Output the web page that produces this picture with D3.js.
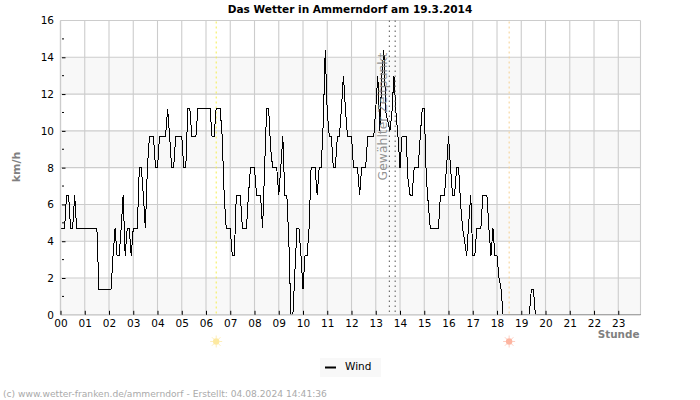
<!DOCTYPE html>
<html>
<head>
<meta charset="utf-8">
<script src="https://cdn.jsdelivr.net/npm/d3@7/dist/d3.min.js"></script>
<style>
html,body{margin:0;padding:0;background:#fff;}
svg{display:block;}
text{font-family:"DejaVu Sans",sans-serif;}
</style>
</head>
<body>
<svg id="c" width="700" height="400"></svg>
<script>
const chartTitle = "Das Wetter in Ammerndorf am 19.3.2014";
const footerText = "(c) www.wetter-franken.de/ammerndorf - Erstellt: 04.08.2024 14:41:36";
const hourLabels = ["00","01","02","03","04","05","06","07","08","09","10","11","12","13","14","15","16","17","18","19","20","21","22","23"];
const yLabelled = [0,2,4,6,8,10,12,14,16];
const yMinor = [1,3,5,7,9,11,13,15];
const bands = [[0,2],[4,6],[8,10],[12,14]];
const seriesName = "Wind";
const sunriseHour = 6.42;
const sunsetHour = 18.5;
const selectedHours = [13.56, 13.8];
const selectedLabel = "Gewählter Zeitpunkt";
// wind in km/h, one row per hour, one value per 5 minutes
const wind = [
4.7,4.7,4.7,6.5,6.5,4.7,4.7,6.5,4.7,4.7,4.7,4.7,
4.7,4.7,4.7,4.7,4.7,4.7,4.7,1.4,1.4,1.4,1.4,1.4,
1.4,1.4,3.2,4.7,3.2,3.2,4.7,6.5,3.2,4.7,4.7,3.2,
4.7,4.7,4.7,8,8,6.5,4.7,8,9.7,9.7,9.7,8,
8,9.7,9.7,9.7,9.7,11.2,9.7,8,8,9.7,9.7,9.7,
9.7,8,8,11.2,11.2,9.7,9.7,9.7,11.2,11.2,11.2,11.2,
11.2,11.2,11.2,9.7,9.7,11.2,11.2,11.2,9.7,6.5,4.7,4.7,
4.7,3.2,3.2,6.5,6.5,6.5,4.7,4.7,4.7,6.5,8,8,
8,6.5,6.5,6.5,4.7,8,11.2,11.2,9,8,8,8,
6.5,8,9.7,6.5,6.5,4,0,0,2.4,4.7,4.7,3.2,
1.4,3.2,3.2,4.7,8,8,8,6.5,8,8,10.4,14.4,
11,9.7,9.7,8,8,9.7,9.7,11.2,13,11.2,9.7,9.7,
9.7,8,8,8,6.5,8,8,8,9.7,9.7,9.7,9.7,
11.2,13,10,13,14.4,11,10.5,10,11,13,11,9.7,
8,9.7,9.7,9.7,7.3,6.5,6.5,8,8,8,9.7,11.2,
11.2,7.5,6,4.7,4.7,4.7,4.7,4.7,6.5,6.5,6.5,8,
9.7,8,6.5,6.5,8,8,6,4.7,4,3.2,5,6.5,
3.2,3.2,4.7,4.7,4.7,6.5,6.5,6.5,4.7,3.2,4.7,3.2,
3.2,2,1.4,0,0,0,0,0,0,0,0,0,
0,0,0,0,0,1.4,1.4,0,0,0,0,0,
0,0,0,0,0,0,0,0,0,0,0,0,
0,0,0,0,0,0,0,0,0,0,0,0,
0,0,0,0,0,0,0,0,0,0,0,0,
0,0,0,0,0,0,0,0,0,0,0,0
];

const svg = d3.select("#c");
const L = 60.5, R = 640.5, T = 20.5, B = 314.8;
const x = d3.scaleLinear().domain([0, 287/12]).range([L, R]);
const y = d3.scaleLinear().domain([0, 16]).range([B, T]);
const gridCol = "#cccccc", labelGrey = "#808080";

// alternating bands
svg.append("g").selectAll("rect").data(bands).join("rect")
  .attr("x", L).attr("width", R - L)
  .attr("y", d => y(d[1])).attr("height", d => y(d[0]) - y(d[1]))
  .attr("fill", "#f8f8f8");

// grid
const gridG = svg.append("g").attr("stroke", gridCol).attr("stroke-width", 1.1);
gridG.selectAll(".v").data(hourLabels).join("line").attr("class","v")
  .attr("x1", (d,i) => x(i)).attr("x2", (d,i) => x(i)).attr("y1", T).attr("y2", B);
gridG.selectAll(".h").data(yLabelled).join("line").attr("class","h")
  .attr("x1", L).attr("x2", R).attr("y1", d => y(d)).attr("y2", d => y(d));
gridG.append("line").attr("x1", R).attr("x2", R).attr("y1", T).attr("y2", B);

// sunrise / sunset / selected time
function vmark(h, col, dash, w) {
  svg.append("line").attr("x1", x(h)).attr("x2", x(h)).attr("y1", T + 1).attr("y2", B)
    .attr("stroke", col).attr("stroke-width", w).attr("stroke-dasharray", dash);
}
vmark(sunriseHour, "#f4ee4a", "2,3", 1);
vmark(sunsetHour, "#f5cf8f", "2,3", 1);

// series
const clipId = "plotclip";
svg.append("clipPath").attr("id", clipId).append("rect")
  .attr("x", L).attr("y", T - 2).attr("width", R - L).attr("height", B - T + 2);
const line = d3.line().x((d,i) => x(i/12)).y(d => y(d));
svg.append("path").datum(wind).attr("d", line)
  .attr("fill", "none").attr("stroke", "#000").attr("stroke-width", 1)
  .attr("shape-rendering", "crispEdges")
  .attr("clip-path", `url(#${clipId})`);

selectedHours.forEach(h => {
  svg.append("line").attr("x1", x(h)).attr("x2", x(h)).attr("y1", T).attr("y2", B)
    .attr("stroke", "#555").attr("stroke-width", 1).attr("stroke-dasharray", "1.5,3.5");
});
svg.append("text").attr("transform", "translate(386.5,116.5) rotate(-90)")
  .attr("text-anchor", "middle").attr("font-size", 12.4).attr("fill", "#808080").attr("fill-opacity", 0.85)
  .text(selectedLabel);

// frame (bottom and left) on top of the line
svg.append("line").attr("x1", L).attr("x2", R).attr("y1", B).attr("y2", B).attr("stroke", gridCol).attr("stroke-width", 1.3);
svg.append("line").attr("x1", L).attr("x2", L).attr("y1", T).attr("y2", B).attr("stroke", gridCol).attr("stroke-width", 1.3);

// axes
const xAxis = d3.axisBottom(x).tickValues(d3.range(hourLabels.length))
  .tickFormat((d,i) => hourLabels[i]).tickSizeInner(-4).tickSizeOuter(0).tickPadding(0);
const gx = svg.append("g").attr("transform", `translate(0,${B})`).call(xAxis);
gx.select(".domain").remove();
gx.selectAll("line").attr("stroke", "#000").attr("stroke-width", 1);
gx.selectAll("text").attr("y", 4.5).attr("dy", "0.71em").attr("font-size", 10.5).attr("fill", "#000")
  .style("font-family", '"DejaVu Sans",sans-serif');

const yAxis = d3.axisLeft(y).tickValues(yLabelled).tickFormat(d3.format("d"))
  .tickSizeInner(-5).tickSizeOuter(0).tickPadding(0);
const gy = svg.append("g").attr("transform", `translate(${L},0)`).call(yAxis);
gy.select(".domain").remove();
gy.selectAll("line").attr("stroke", "#000").attr("stroke-width", 1).attr("x1", 1.5);
gy.selectAll("line").filter(d => d === 0 || d === 16).remove();
gy.selectAll("text").attr("x", -6.5).attr("font-size", 10.5).attr("fill", "#000")
  .style("font-family", '"DejaVu Sans",sans-serif');
svg.append("g").selectAll("line").data(yMinor).join("line")
  .attr("x1", L + 1.5).attr("x2", L + 3.5).attr("y1", d => y(d)).attr("y2", d => y(d))
  .attr("stroke", "#000");

// titles
svg.append("text").attr("x", 350).attr("y", 13).attr("text-anchor", "middle")
  .attr("font-size", 10.55).attr("font-weight", "bold").attr("fill", "#000").text(chartTitle);
svg.append("text").attr("transform", "translate(19.5,167) rotate(-90)").attr("text-anchor", "middle")
  .attr("font-size", 11).attr("font-weight", "bold").attr("fill", labelGrey).text("km/h");
svg.append("text").attr("x", 639.5).attr("y", 338).attr("text-anchor", "end")
  .attr("font-size", 10.4).attr("font-weight", "bold").attr("fill", labelGrey).text("Stunde");

// sun icons
function sun(h, fill, ray) {
  const g = svg.append("g").attr("transform", `translate(${x(h)},341.5)`);
  d3.range(0, 360, 45).forEach(a => {
    const r = a * Math.PI / 180;
    g.append("line").attr("x1", 3 * Math.cos(r)).attr("y1", 3 * Math.sin(r))
      .attr("x2", 6 * Math.cos(r)).attr("y2", 6 * Math.sin(r))
      .attr("stroke", ray).attr("stroke-width", 1);
  });
  g.append("circle").attr("r", 3.2).attr("fill", fill);
}
sun(sunriseHour, "#fde9a0", "#fdeebc");
sun(sunsetHour, "#fdb4a0", "#fdcfc2");

// legend
svg.append("rect").attr("x", 320).attr("y", 358).attr("width", 61).attr("height", 19).attr("fill", "#f8f8f8");
svg.append("line").attr("x1", 325).attr("x2", 336).attr("y1", 367.5).attr("y2", 367.5).attr("stroke", "#000").attr("stroke-width", 2);
svg.append("text").attr("x", 345).attr("y", 370).attr("font-size", 10.5).attr("fill", "#000").text(seriesName);

// footer
svg.append("text").attr("x", 3).attr("y", 397).attr("font-size", 9.15).attr("fill", "#aaaaaa").text(footerText);
</script>
</body>
</html>
